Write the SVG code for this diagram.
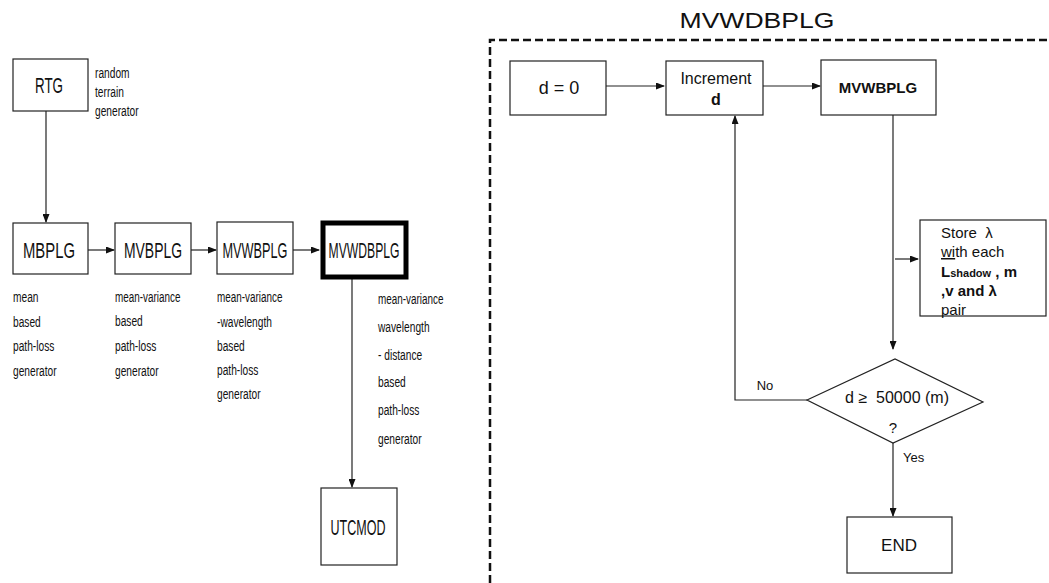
<svg xmlns="http://www.w3.org/2000/svg" width="1049" height="583" viewBox="0 0 1049 583">
<style>
.box{fill:#fff;stroke:#222;stroke-width:1.2}
.thick{fill:#fff;stroke:#000;stroke-width:5}
.conn{fill:none;stroke:#222;stroke-width:1.2}
.lbl{font-family:"Liberation Sans",Arial,sans-serif;font-size:22px;fill:#111;text-anchor:middle}
.desc{font-family:"Liberation Sans",Arial,sans-serif;font-size:15px;fill:#111}
.rt{font-family:"Liberation Sans",Arial,sans-serif;fill:#111}
</style>
<defs>
<marker id="ah" markerWidth="9" markerHeight="7" refX="8" refY="3.5" orient="auto" markerUnits="userSpaceOnUse">
<path d="M0,0 L9,3.5 L0,7 z" fill="#111"/>
</marker>
</defs>
<rect width="1049" height="583" fill="#fff"/>

<g id="connectors">
<line class="conn" x1="46" y1="111" x2="46" y2="222" marker-end="url(#ah)"/>
<line class="conn" x1="88" y1="250" x2="114" y2="250" marker-end="url(#ah)"/>
<line class="conn" x1="191" y1="250" x2="216" y2="250" marker-end="url(#ah)"/>
<line class="conn" x1="293" y1="250" x2="319" y2="250" marker-end="url(#ah)"/>
<line class="conn" x1="352" y1="279" x2="352" y2="487" marker-end="url(#ah)"/>
<line class="conn" x1="606" y1="86" x2="664" y2="86" marker-end="url(#ah)"/>
<line class="conn" x1="763" y1="86" x2="820" y2="86" marker-end="url(#ah)"/>
<line class="conn" x1="893" y1="115" x2="893" y2="349" marker-end="url(#ah)"/>
<line class="conn" x1="895" y1="259" x2="918" y2="259" marker-end="url(#ah)"/>
<polyline class="conn" points="807,400 735,400 735,116" marker-end="url(#ah)"/>
<line class="conn" x1="893" y1="443" x2="893" y2="516" marker-end="url(#ah)"/>
<path d="M490,583 L490,40 L1049,40" fill="none" stroke="#111" stroke-width="2.5" stroke-dasharray="8 4"/>
</g>

<g id="rtg">
<rect class="box" x="13" y="59" width="75" height="52"/>
<text class="lbl" x="49" y="93" textLength="28" lengthAdjust="spacingAndGlyphs">RTG</text>
<text class="desc" transform="translate(95,78) scale(0.68,1)">random</text>
<text class="desc" transform="translate(95,97) scale(0.68,1)">terrain</text>
<text class="desc" transform="translate(95,116) scale(0.68,1)">generator</text>
</g>

<g id="mbplg">
<rect class="box" x="13" y="223" width="75" height="51"/>
<text class="lbl" x="49" y="258" textLength="52" lengthAdjust="spacingAndGlyphs">MBPLG</text>
<text class="desc" transform="translate(13,302) scale(0.68,1)">mean</text>
<text class="desc" transform="translate(13,327) scale(0.68,1)">based</text>
<text class="desc" transform="translate(13,351) scale(0.68,1)">path-loss</text>
<text class="desc" transform="translate(13,376) scale(0.68,1)">generator</text>
</g>

<g id="mvbplg">
<rect class="box" x="115" y="223" width="76" height="51"/>
<text class="lbl" x="153" y="258" textLength="58" lengthAdjust="spacingAndGlyphs">MVBPLG</text>
<text class="desc" transform="translate(115,302) scale(0.66,1)">mean-variance</text>
<text class="desc" transform="translate(115,326) scale(0.68,1)">based</text>
<text class="desc" transform="translate(115,351) scale(0.68,1)">path-loss</text>
<text class="desc" transform="translate(115,376) scale(0.68,1)">generator</text>
</g>

<g id="mvwbplg">
<rect class="box" x="217" y="222" width="76" height="52"/>
<text class="lbl" x="255" y="258" textLength="65" lengthAdjust="spacingAndGlyphs">MVWBPLG</text>
<text class="desc" transform="translate(217,302) scale(0.66,1)">mean-variance</text>
<text class="desc" transform="translate(217,327) scale(0.68,1)">-wavelength</text>
<text class="desc" transform="translate(217,351) scale(0.68,1)">based</text>
<text class="desc" transform="translate(217,375) scale(0.68,1)">path-loss</text>
<text class="desc" transform="translate(217,399) scale(0.68,1)">generator</text>
</g>

<g id="mvwdbplg">
<rect class="thick" x="323" y="223" width="83" height="54"/>
<text class="lbl" x="364" y="258" textLength="71" lengthAdjust="spacingAndGlyphs">MVWDBPLG</text>
<text class="desc" transform="translate(378,304) scale(0.66,1)">mean-variance</text>
<text class="desc" transform="translate(378,332) scale(0.68,1)">wavelength</text>
<text class="desc" transform="translate(378,360) scale(0.68,1)">- distance</text>
<text class="desc" transform="translate(378,387) scale(0.68,1)">based</text>
<text class="desc" transform="translate(378,415) scale(0.68,1)">path-loss</text>
<text class="desc" transform="translate(378,444) scale(0.68,1)">generator</text>
</g>

<g id="utcmod">
<rect class="box" x="321" y="488" width="76" height="77"/>
<text class="lbl" x="358" y="535" textLength="55" lengthAdjust="spacingAndGlyphs">UTCMOD</text>
</g>

<g id="title">
<text class="rt" x="757" y="28" font-size="22" text-anchor="middle" textLength="155" lengthAdjust="spacingAndGlyphs">MVWDBPLG</text>
</g>

<g id="d0">
<rect class="box" x="510" y="61" width="96" height="54"/>
<text class="rt" x="559" y="94" font-size="18" text-anchor="middle">d = 0</text>
</g>

<g id="increment">
<rect class="box" x="666" y="61" width="97" height="54"/>
<text class="rt" x="716" y="84" font-size="16" text-anchor="middle">Increment</text>
<text class="rt" x="716" y="105" font-size="16" font-weight="bold" text-anchor="middle">d</text>
</g>

<g id="mvwbplg2">
<rect class="box" x="821" y="60" width="115" height="55"/>
<text class="rt" x="878" y="93" font-size="15" font-weight="bold" text-anchor="middle">MVWBPLG</text>
</g>

<g id="store">
<rect class="box" x="920" y="220" width="126" height="96"/>
<text class="rt" x="941" y="238" font-size="15">Store &#160;λ</text>
<text class="rt" x="941" y="257" font-size="15"><tspan text-decoration="underline">wi</tspan>th each</text>
<text class="rt" x="941" y="277" font-size="15" font-weight="bold">L<tspan font-size="11">shadow</tspan> , m</text>
<text class="rt" x="941" y="296" font-size="15" font-weight="bold">,v and λ</text>
<text class="rt" x="941" y="315" font-size="15">pair</text>
</g>

<g id="decision">
<polygon class="box" points="807,400 895,359 983,402 893,443"/>
<text class="rt" x="897" y="403" font-size="16" text-anchor="middle">d ≥ &#160;50000 (m)</text>
<text class="rt" x="893" y="433" font-size="15" text-anchor="middle">?</text>
<text class="rt" x="765" y="390" font-size="13" text-anchor="middle">No</text>
<text class="rt" x="903" y="462" font-size="13">Yes</text>
</g>

<g id="end">
<rect class="box" x="847" y="517" width="105" height="56"/>
<text class="rt" x="899" y="551" font-size="17" text-anchor="middle">END</text>
</g>
</svg>
